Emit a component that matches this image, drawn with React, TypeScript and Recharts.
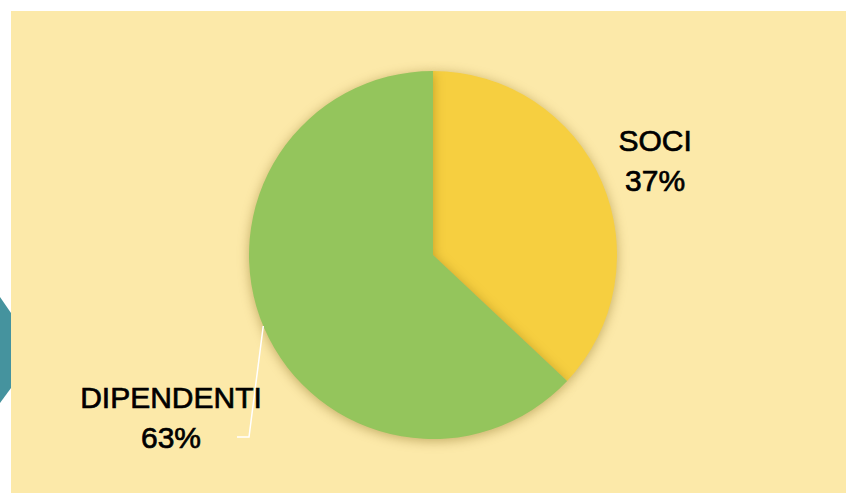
import { PieChart, Pie, Cell } from "recharts";

const categories = ["SOCI", "DIPENDENTI"];
const shares = [37, 63];

const sliceColors = ["#F6CF40", "#94C55C"];

const data = categories.map((name, i) => ({ name, value: shares[i] }));

const RADIAN = Math.PI / 180;

function renderLabel(props: any) {
  const { cx, cy, midAngle, outerRadius, index, name, percent } = props;
  const pct = Math.round(percent * 100) + "%";
  let x: number;
  let y: number;
  let line = null;
  if (index === 0) {
    const r = outerRadius + 58;
    x = cx + r * Math.cos(-midAngle * RADIAN);
    y = cy + r * Math.sin(-midAngle * RADIAN) - 8;
  } else {
    // label was moved down-left, with a leader line back to the slice
    x = cx - 262;
    y = cy + 153;
    const sx = cx - Math.sqrt(outerRadius * outerRadius - 71 * 71);
    const sy = cy + 71;
    line = (
      <polyline
        points={`${sx},${sy} ${cx - 184},${cy + 182} ${cx - 196},${cy + 182}`}
        fill="none"
        stroke="#ffffff"
        strokeWidth={1.5}
      />
    );
  }
  return (
    <g>
      {line}
      <text
        x={x}
        y={y}
        textAnchor="middle"
        fill="#000"
        stroke="#000"
        strokeWidth={0.7}
        fontSize={30}
        fontFamily="'Liberation Sans', Arial, sans-serif"
      >
        <tspan x={x} dy={0}>{name}</tspan>
        <tspan x={x} dy={40}>{pct}</tspan>
      </text>
    </g>
  );
}

function ChartSociDipendenti(): JSX.Element {
  return (
    <div style={{ position: "fixed", left: 0, top: 0, width: 846, height: 493, background: "#fff", overflow: "hidden" }}>
      <style>{`.recharts-pie-sector path { filter: drop-shadow(0px 2px 6px rgba(110, 80, 0, 0.4)); }`}</style>
      <svg width={14} height={493} style={{ position: "absolute", left: 0, top: 0 }}>
        <polygon points="0,297 11,313 11,388 0,403" fill="#45939E" />
      </svg>
      <div style={{ position: "absolute", left: 11, top: 11, width: 835, height: 482, background: "#FCE9A9" }}>
        <PieChart width={835} height={482} margin={{ top: 0, right: 0, left: 0, bottom: 0 }}>
          <Pie
            dataKey="value"
            nameKey="name"
            isAnimationActive={false}
            data={data}
            cx={422}
            cy={244}
            outerRadius={184}
            startAngle={90}
            endAngle={-270}
            stroke="none"
            labelLine={false}
            label={renderLabel}
          >
            {data.map((d, i) => (
              <Cell key={d.name} fill={sliceColors[i]} />
            ))}
          </Pie>
        </PieChart>
      </div>
    </div>
  );
}

export default ChartSociDipendenti;
